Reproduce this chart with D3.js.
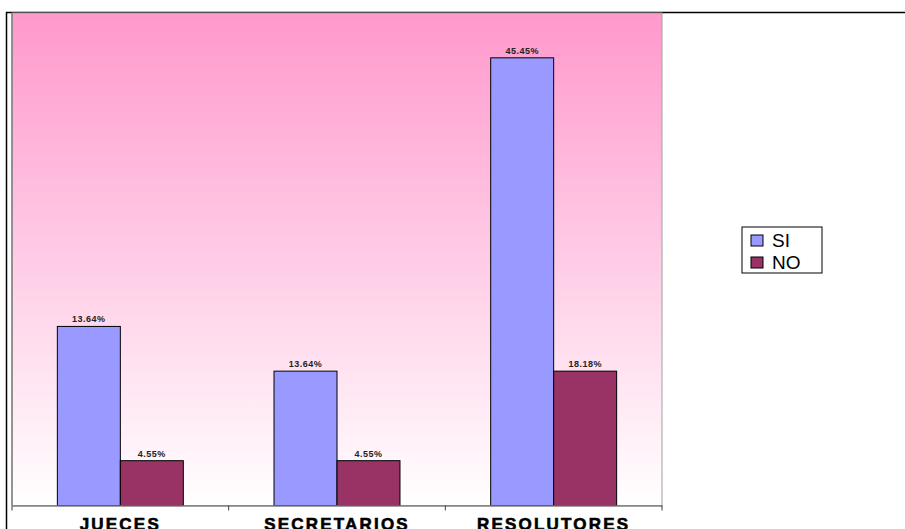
<!DOCTYPE html>
<html>
<head>
<meta charset="utf-8">
<script src="https://cdn.jsdelivr.net/npm/d3@7"></script>
<style>
  body { margin: 0; background: #fff; overflow: hidden; }
  svg { display: block; font-family: "Liberation Sans", Arial, sans-serif; }
</style>
</head>
<body>
<div id="grafico"></div>
<script>
// categories et séries
const categorias = ["JUECES", "SECRETARIOS", "RESOLUTORES"];
const series = ["SI", "NO"];
// hauteurs des barres
const valoresSI = [18.18, 13.64, 45.45];
const valoresNO = [4.55, 4.55, 13.64];
// étiquettes affichées au-dessus des barres (telles qu'écrites)
const etiquetasSI = ["13.64%", "13.64%", "45.45%"];
const etiquetasNO = ["4.55%", "4.55%", "18.18%"];
const colores = ["#9999FF", "#993366"];
const yMax = 50;

const largeur = 905, hauteur = 529;
const svg = d3.select("#grafico").append("svg")
  .attr("width", largeur).attr("height", hauteur);

// zone du graphique
const zone = { left: 12, top: 13, right: 662, bottom: 505.5 };

const defs = svg.append("defs");
const grad = defs.append("linearGradient")
  .attr("id", "fondo").attr("x1", 0).attr("y1", 0).attr("x2", 0).attr("y2", 1);
grad.append("stop").attr("offset", "0%").attr("stop-color", "#FF99CC");
grad.append("stop").attr("offset", "100%").attr("stop-color", "#FFFFFF");

// cadre extérieur (coupé à droite et en bas)
svg.append("rect")
  .attr("x", 6.5).attr("y", 12.5)
  .attr("width", 1000).attr("height", 1000)
  .attr("fill", "none").attr("stroke", "#000").attr("stroke-width", 1.5);

// fond dégradé
svg.append("rect")
  .attr("x", zone.left).attr("y", zone.top)
  .attr("width", zone.right - zone.left).attr("height", zone.bottom - zone.top)
  .attr("fill", "url(#fondo)")
  .attr("stroke", "#a0a0a0").attr("stroke-width", 1);

const x = d3.scaleBand().domain(categorias)
  .range([zone.left, zone.right]).paddingInner(0).paddingOuter(0);
const xs = d3.scaleBand().domain(series)
  .range([0, x.bandwidth()]).paddingInner(0).paddingOuter(0.72);
const y = d3.scaleLinear().domain([0, yMax]).range([zone.bottom, zone.top]);

const donnees = [];
categorias.forEach((c, i) => {
  donnees.push({ cat: c, serie: "SI", v: valoresSI[i], label: etiquetasSI[i] });
  donnees.push({ cat: c, serie: "NO", v: valoresNO[i], label: etiquetasNO[i] });
});

// barres
svg.selectAll("rect.barre")
  .data(donnees)
  .enter()
  .append("rect")
  .attr("class", "barre")
  .attr("x", (d) => x(d.cat) + xs(d.serie))
  .attr("y", (d) => y(d.v))
  .attr("width", xs.bandwidth())
  .attr("height", (d) => y(0) - y(d.v))
  .attr("fill", (d) => colores[series.indexOf(d.serie)])
  .attr("stroke", "#000").attr("stroke-width", 1);

// étiquettes de valeur
svg.selectAll("text.valeur")
  .data(donnees)
  .enter()
  .append("text")
  .attr("class", "valeur")
  .attr("x", (d) => x(d.cat) + xs(d.serie) + xs.bandwidth() / 2)
  .attr("y", (d) => y(d.v) - 4)
  .attr("text-anchor", "middle")
  .attr("font-size", 9).attr("font-weight", "bold")
  .attr("letter-spacing", 0.5)
  .attr("fill", "#222")
  .text((d) => d.label);

// axe X
const axeX = svg.append("g")
  .attr("transform", `translate(0,${zone.bottom})`)
  .call(d3.axisBottom(x).tickSize(0).tickFormat(""));
axeX.select(".domain").attr("stroke", "#808080").attr("stroke-width", 1.5);
// petites graduations entre catégories
const bords = categorias.map((c) => x(c)).concat([x(categorias[2]) + x.bandwidth()]);
svg.selectAll("line.grad")
  .data(bords)
  .enter()
  .append("line")
  .attr("x1", (d) => d).attr("x2", (d) => d)
  .attr("y1", zone.bottom).attr("y2", zone.bottom + 5)
  .attr("stroke", "#404040").attr("stroke-width", 1);

svg.selectAll("text.cat")
  .data(categorias)
  .enter()
  .append("text")
  .attr("class", "cat")
  .attr("x", (d) => x(d) + x.bandwidth() / 2)
  .attr("y", 530)
  .attr("text-anchor", "middle")
  .attr("font-size", 17).attr("font-weight", "bold")
  .attr("letter-spacing", 2.2)
  .attr("fill", "#000")
  .attr("stroke", "#000").attr("stroke-width", 0.6)
  .text((d) => d);

// axe Y (ligne seule)
svg.append("line")
  .attr("x1", zone.left).attr("x2", zone.left)
  .attr("y1", zone.top).attr("y2", zone.bottom)
  .attr("stroke", "#808080").attr("stroke-width", 1.5);

// légende
const legende = svg.append("g").attr("transform", "translate(742,227)");
legende.append("rect")
  .attr("width", 80).attr("height", 46)
  .attr("fill", "#fff").attr("stroke", "#000").attr("stroke-width", 1);
series.forEach((s, i) => {
  legende.append("rect")
    .attr("x", 9).attr("y", 8 + i * 22)
    .attr("width", 12).attr("height", 11)
    .attr("fill", colores[i]).attr("stroke", "#000").attr("stroke-width", 1);
  legende.append("text")
    .attr("x", 30).attr("y", 20 + i * 22)
    .attr("font-size", 19)
    .attr("fill", "#000")
    .text(s);
});
</script>
</body>
</html>
